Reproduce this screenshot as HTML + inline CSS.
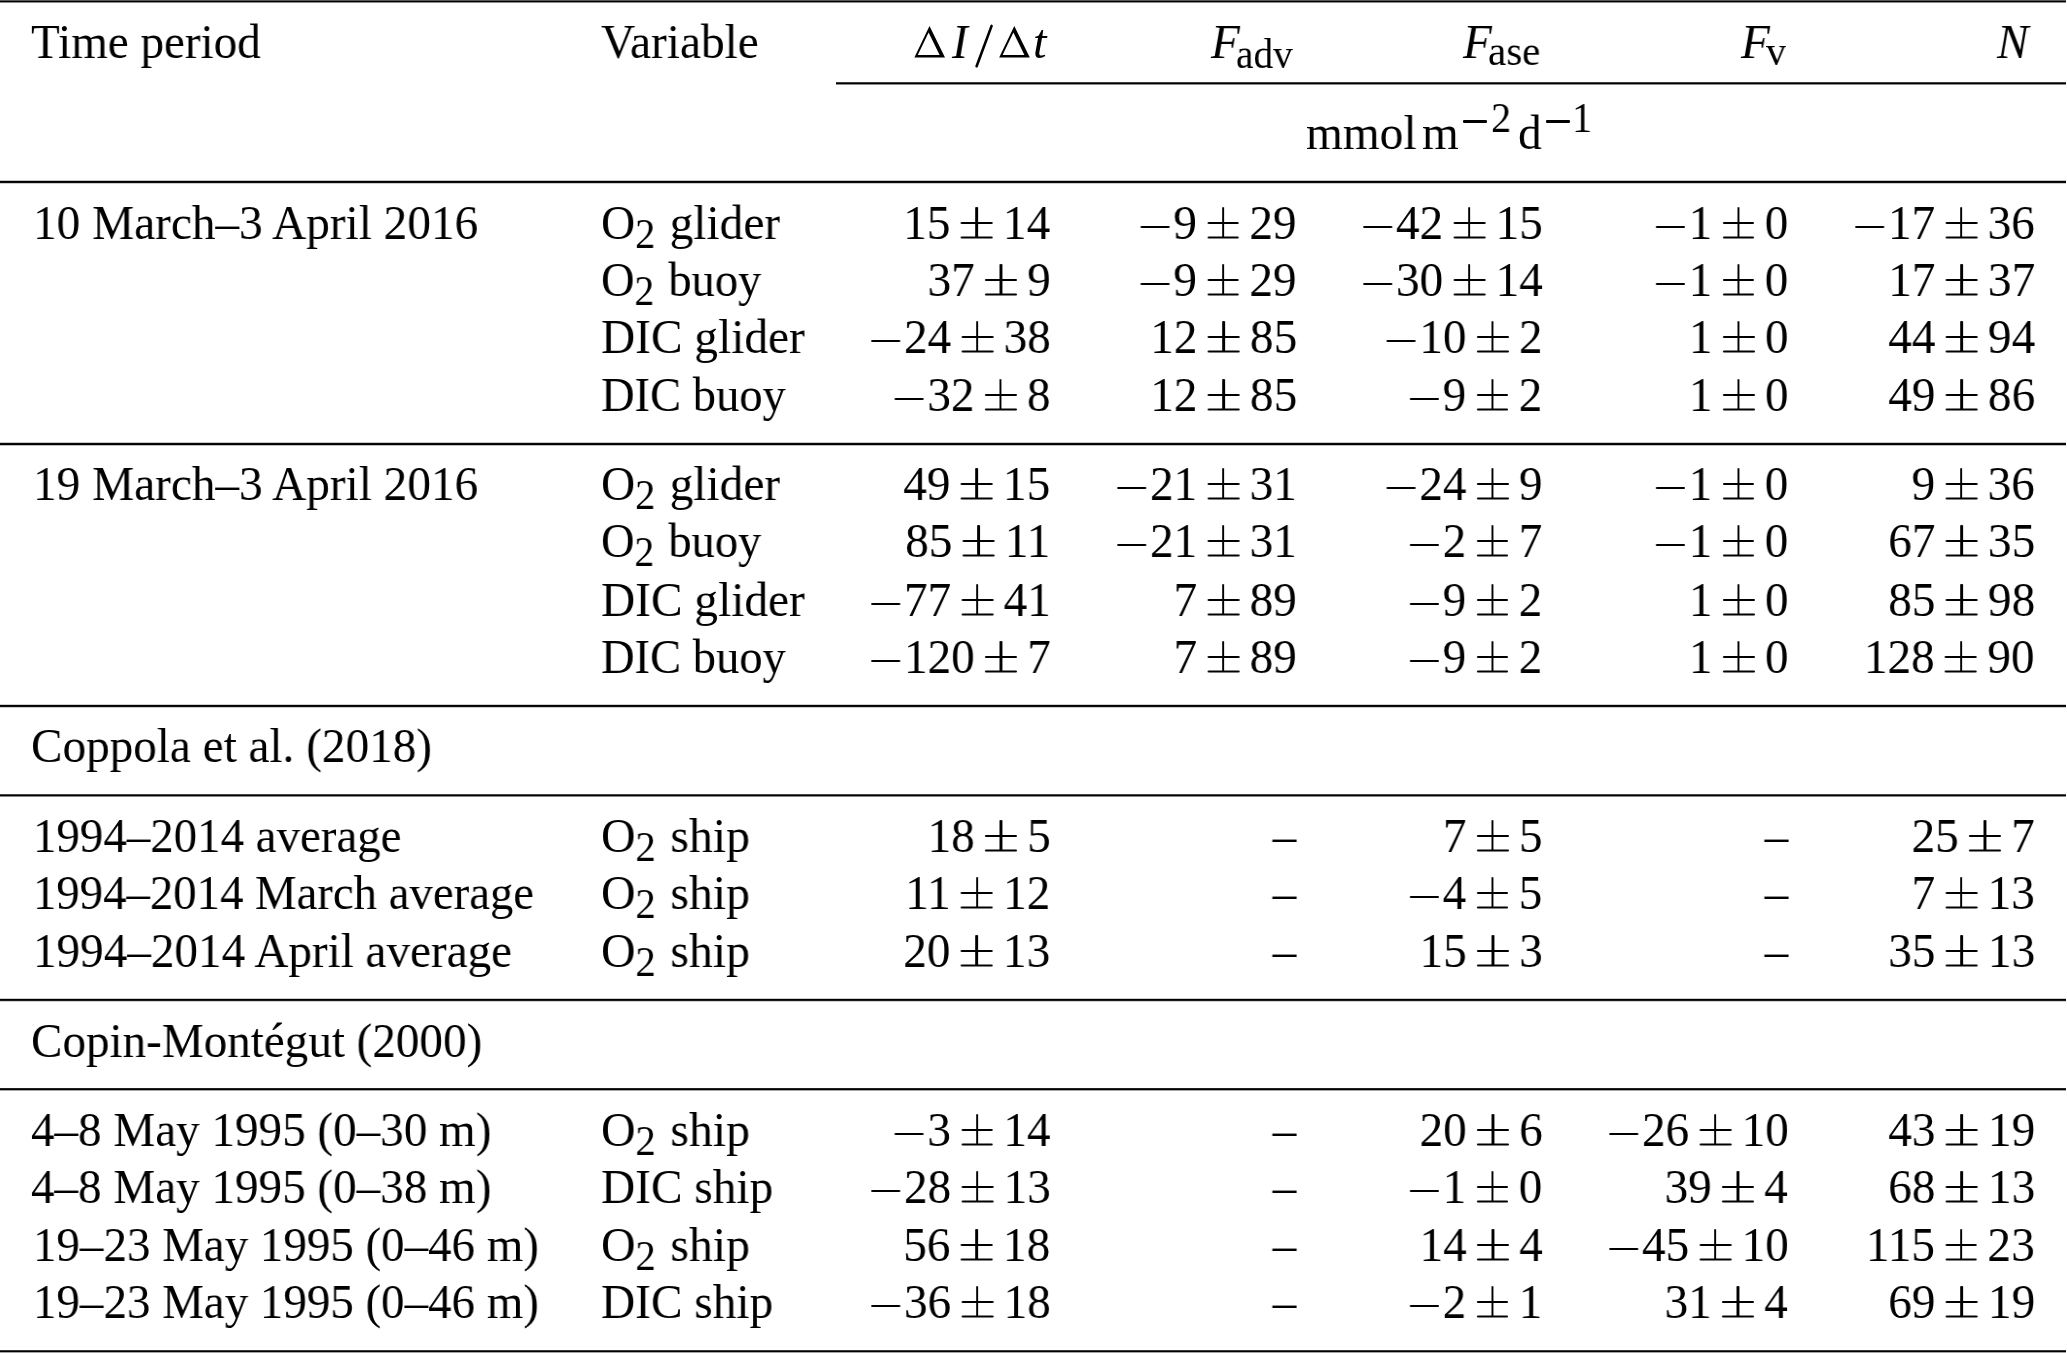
<!DOCTYPE html>
<html><head><meta charset="utf-8"><title>Table</title><style>
html,body{margin:0;padding:0;background:#fff}
body{width:2067px;height:1353px;position:relative;overflow:hidden}
.t{will-change:transform;position:absolute;white-space:nowrap;font-family:"Liberation Serif",serif;font-size:48.6px;line-height:48.6px;height:48.6px;color:#000}
.t.sm{font-size:41.5px;line-height:41.5px;height:41.5px}
.l{transform-origin:0 0;transform:scaleX(0.972)}
.r{transform-origin:100% 0;transform:scaleX(0.972);text-align:right}
.it{font-style:italic}
.sb{font-size:41.5px;position:relative;top:9px;line-height:0;margin-right:2.572px}
i.pm,i.mn{display:inline-block;position:relative;height:0;vertical-align:baseline;font-size:0;line-height:0;color:transparent;font-style:normal}
i.pm{width:32.716px;margin:0 10.7px 0 10.597px}
i.pm:before{content:"";position:absolute;left:0;right:0;height:2.4px;bottom:14.7px;background:#000;border-radius:1.2px;box-shadow:0 14.6px 0 #000}
i.pm:after{content:"";position:absolute;left:15.175px;width:2.366px;bottom:1.3px;height:30.9px;background:#000;border-radius:1px}
i.mn{width:29.63px;margin-right:4.012px}
i.mn:before{content:"";position:absolute;left:0;right:0;height:2.5px;bottom:10.95px;background:#000;border-radius:1.25px}
.rule{position:absolute;left:0;width:2066px;height:1px}
.bar{position:absolute;background:#000;border-radius:1.1px;font-size:0;line-height:0;color:transparent;overflow:hidden}
</style></head>
<body>
<div class="rule" style="top:0px;background:rgb(88,88,88)"></div><div class="rule" style="top:1px;background:rgb(0,0,0)"></div><div class="rule" style="top:2px;background:rgb(140,140,140)"></div><div class="rule" style="top:180px;background:rgb(196,196,196)"></div><div class="rule" style="top:181px;background:rgb(0,0,0)"></div><div class="rule" style="top:182px;background:rgb(12,12,12)"></div><div class="rule" style="top:183px;background:rgb(204,204,204)"></div><div class="rule" style="top:442px;background:rgb(200,200,200)"></div><div class="rule" style="top:443px;background:rgb(8,8,8)"></div><div class="rule" style="top:444px;background:rgb(0,0,0)"></div><div class="rule" style="top:445px;background:rgb(192,192,192)"></div><div class="rule" style="top:704px;background:rgb(208,208,208)"></div><div class="rule" style="top:705px;background:rgb(0,0,0)"></div><div class="rule" style="top:706px;background:rgb(16,16,16)"></div><div class="rule" style="top:707px;background:rgb(200,200,200)"></div><div class="rule" style="top:794px;background:rgb(72,72,72)"></div><div class="rule" style="top:795px;background:rgb(0,0,0)"></div><div class="rule" style="top:796px;background:rgb(136,136,136)"></div><div class="rule" style="top:998px;background:rgb(204,204,204)"></div><div class="rule" style="top:999px;background:rgb(0,0,0)"></div><div class="rule" style="top:1000px;background:rgb(26,26,26)"></div><div class="rule" style="top:1001px;background:rgb(208,208,208)"></div><div class="rule" style="top:1088px;background:rgb(32,32,32)"></div><div class="rule" style="top:1089px;background:rgb(0,0,0)"></div><div class="rule" style="top:1090px;background:rgb(168,168,168)"></div><div class="rule" style="top:1350px;background:rgb(58,58,58)"></div><div class="rule" style="top:1351px;background:rgb(0,0,0)"></div><div class="rule" style="top:1352px;background:rgb(164,164,164)"></div><div class="rule" style="top:82px;left:836px;width:1230px;background:rgb(60,60,60)"></div><div class="rule" style="top:83px;left:836px;width:1230px;background:rgb(0,0,0)"></div><div class="rule" style="top:84px;left:836px;width:1230px;background:rgb(138,138,138)"></div>
<svg width="2067" height="100" style="position:absolute;left:0;top:0">
<path d="M914.4,57.4 L929.5,26.1 L945,57.4 Z M917.8,54.9 L928.6,32.6 L939.6,54.9 Z M999.2,57.4 L1014.3,26.1 L1029.8,57.4 Z M1002.6,54.9 L1013.4,32.6 L1024.4,54.9 Z" fill="#000" fill-rule="evenodd"/>
<line x1="976.6" y1="66.2" x2="991.6" y2="25.9" stroke="#000" stroke-width="2.6" stroke-linecap="round"/>
</svg>
<div class="t l" style="top:18px;left:30.954px;transform:scaleX(0.969);">Time period</div>
<div class="t l" style="top:18px;left:601.098px;transform:scaleX(0.975);">Variable</div>
<div class="t l it" style="top:18px;left:951.685px;">I</div>
<div class="t l it" style="top:18px;left:1032.874px;">t</div>
<div class="t l it" style="top:18px;left:1210.554px;">F</div>
<div class="t l sm" style="top:34px;left:1235.647px;transform:scaleX(0.946);">adv</div>
<div class="t l it" style="top:18px;left:1462.804px;">F</div>
<div class="t l sm" style="top:31px;left:1487.945px;transform:scaleX(0.988);">ase</div>
<div class="t l it" style="top:18px;left:1740.704px;">F</div>
<div class="t l sm" style="top:31px;left:1766px;">v</div>
<div class="t l it" style="top:18px;left:1996.796px;">N</div>
<div class="t l" style="top:109px;left:1306.005px;transform:scaleX(0.975);">mmol</div>
<div class="t l" style="top:109px;left:1421.708px;">m</div>
<div class="t l sm" style="top:98px;left:1490.527px;">2</div>
<div class="t l" style="top:109px;left:1517.593px;">d</div>
<div class="t l sm" style="top:98px;left:1572.405px;">1</div>
<div class="t l" style="top:199px;left:32.697px;transform:scaleX(0.973);">10 March–3 April 2016</div>
<div class="t l" style="top:199px;left:601.096px;transform:scaleX(0.974);">O<span class="sb">2</span> glider</div>
<div class="t r" style="top:199px;right:1016.6px;">15<i class="pm">±</i>14</div>
<div class="t r" style="top:199px;right:770.3px;"><i class="mn">−</i>9<i class="pm">±</i>29</div>
<div class="t r" style="top:199px;right:524.4px;"><i class="mn">−</i>42<i class="pm">±</i>15</div>
<div class="t r" style="top:199px;right:278.7px;"><i class="mn">−</i>1<i class="pm">±</i>0</div>
<div class="t r" style="top:199px;right:32.2px;"><i class="mn">−</i>17<i class="pm">±</i>36</div>
<div class="t l" style="top:256px;left:601.133px;transform:scaleX(0.955);">O<span class="sb">2</span> buoy</div>
<div class="t r" style="top:256px;right:1016.6px;">37<i class="pm">±</i>9</div>
<div class="t r" style="top:256px;right:770.3px;"><i class="mn">−</i>9<i class="pm">±</i>29</div>
<div class="t r" style="top:256px;right:524.4px;"><i class="mn">−</i>30<i class="pm">±</i>14</div>
<div class="t r" style="top:256px;right:278.7px;"><i class="mn">−</i>1<i class="pm">±</i>0</div>
<div class="t r" style="top:256px;right:32.2px;">17<i class="pm">±</i>37</div>
<div class="t l" style="top:313px;left:601.098px;transform:scaleX(0.974);">DIC glider</div>
<div class="t r" style="top:313px;right:1016.6px;"><i class="mn">−</i>24<i class="pm">±</i>38</div>
<div class="t r" style="top:313px;right:770.3px;">12<i class="pm">±</i>85</div>
<div class="t r" style="top:313px;right:524.4px;"><i class="mn">−</i>10<i class="pm">±</i>2</div>
<div class="t r" style="top:313px;right:278.7px;">1<i class="pm">±</i>0</div>
<div class="t r" style="top:313px;right:32.2px;">44<i class="pm">±</i>94</div>
<div class="t l" style="top:371px;left:601.113px;transform:scaleX(0.957);">DIC buoy</div>
<div class="t r" style="top:371px;right:1016.6px;"><i class="mn">−</i>32<i class="pm">±</i>8</div>
<div class="t r" style="top:371px;right:770.3px;">12<i class="pm">±</i>85</div>
<div class="t r" style="top:371px;right:524.4px;"><i class="mn">−</i>9<i class="pm">±</i>2</div>
<div class="t r" style="top:371px;right:278.7px;">1<i class="pm">±</i>0</div>
<div class="t r" style="top:371px;right:32.2px;">49<i class="pm">±</i>86</div>
<div class="t l" style="top:460px;left:32.748px;transform:scaleX(0.973);">19 March–3 April 2016</div>
<div class="t l" style="top:460px;left:601.096px;transform:scaleX(0.974);">O<span class="sb">2</span> glider</div>
<div class="t r" style="top:460px;right:1016.6px;">49<i class="pm">±</i>15</div>
<div class="t r" style="top:460px;right:770.3px;"><i class="mn">−</i>21<i class="pm">±</i>31</div>
<div class="t r" style="top:460px;right:524.4px;"><i class="mn">−</i>24<i class="pm">±</i>9</div>
<div class="t r" style="top:460px;right:278.7px;"><i class="mn">−</i>1<i class="pm">±</i>0</div>
<div class="t r" style="top:460px;right:32.2px;">9<i class="pm">±</i>36</div>
<div class="t l" style="top:517px;left:601.133px;transform:scaleX(0.955);">O<span class="sb">2</span> buoy</div>
<div class="t r" style="top:517px;right:1016.6px;">85<i class="pm">±</i>11</div>
<div class="t r" style="top:517px;right:770.3px;"><i class="mn">−</i>21<i class="pm">±</i>31</div>
<div class="t r" style="top:517px;right:524.4px;"><i class="mn">−</i>2<i class="pm">±</i>7</div>
<div class="t r" style="top:517px;right:278.7px;"><i class="mn">−</i>1<i class="pm">±</i>0</div>
<div class="t r" style="top:517px;right:32.2px;">67<i class="pm">±</i>35</div>
<div class="t l" style="top:576px;left:601.098px;transform:scaleX(0.974);">DIC glider</div>
<div class="t r" style="top:576px;right:1016.6px;"><i class="mn">−</i>77<i class="pm">±</i>41</div>
<div class="t r" style="top:576px;right:770.3px;">7<i class="pm">±</i>89</div>
<div class="t r" style="top:576px;right:524.4px;"><i class="mn">−</i>9<i class="pm">±</i>2</div>
<div class="t r" style="top:576px;right:278.7px;">1<i class="pm">±</i>0</div>
<div class="t r" style="top:576px;right:32.2px;">85<i class="pm">±</i>98</div>
<div class="t l" style="top:633px;left:601.113px;transform:scaleX(0.957);">DIC buoy</div>
<div class="t r" style="top:633px;right:1016.6px;"><i class="mn">−</i>120<i class="pm">±</i>7</div>
<div class="t r" style="top:633px;right:770.3px;">7<i class="pm">±</i>89</div>
<div class="t r" style="top:633px;right:524.4px;"><i class="mn">−</i>9<i class="pm">±</i>2</div>
<div class="t r" style="top:633px;right:278.7px;">1<i class="pm">±</i>0</div>
<div class="t r" style="top:633px;right:32.2px;">128<i class="pm">±</i>90</div>
<div class="t l" style="top:722px;left:30.903px;transform:scaleX(0.971);">Coppola et al. (2018)</div>
<div class="t l" style="top:812px;left:32.782px;transform:scaleX(0.965);">1994–2014 average</div>
<div class="t l" style="top:812px;left:601.079px;transform:scaleX(0.983);">O<span class="sb">2</span> ship</div>
<div class="t r" style="top:812px;right:1016.6px;">18<i class="pm">±</i>5</div>
<div class="t r" style="top:812px;right:770.3px;">–</div>
<div class="t r" style="top:812px;right:524.4px;">7<i class="pm">±</i>5</div>
<div class="t r" style="top:812px;right:278.7px;">–</div>
<div class="t r" style="top:812px;right:32.2px;">25<i class="pm">±</i>7</div>
<div class="t l" style="top:869px;left:32.793px;transform:scaleX(0.962);">1994–2014 March average</div>
<div class="t l" style="top:869px;left:601.079px;transform:scaleX(0.983);">O<span class="sb">2</span> ship</div>
<div class="t r" style="top:869px;right:1016.6px;">11<i class="pm">±</i>12</div>
<div class="t r" style="top:869px;right:770.3px;">–</div>
<div class="t r" style="top:869px;right:524.4px;"><i class="mn">−</i>4<i class="pm">±</i>5</div>
<div class="t r" style="top:869px;right:278.7px;">–</div>
<div class="t r" style="top:869px;right:32.2px;">7<i class="pm">±</i>13</div>
<div class="t l" style="top:927px;left:32.759px;transform:scaleX(0.97);">1994–2014 April average</div>
<div class="t l" style="top:927px;left:601.079px;transform:scaleX(0.983);">O<span class="sb">2</span> ship</div>
<div class="t r" style="top:927px;right:1016.6px;">20<i class="pm">±</i>13</div>
<div class="t r" style="top:927px;right:770.3px;">–</div>
<div class="t r" style="top:927px;right:524.4px;">15<i class="pm">±</i>3</div>
<div class="t r" style="top:927px;right:278.7px;">–</div>
<div class="t r" style="top:927px;right:32.2px;">35<i class="pm">±</i>13</div>
<div class="t l" style="top:1017px;left:30.907px;transform:scaleX(0.969);">Copin-Montégut (2000)</div>
<div class="t l" style="top:1106px;left:30.954px;transform:scaleX(0.969);">4–8 May 1995 (0–30 m)</div>
<div class="t l" style="top:1106px;left:601.079px;transform:scaleX(0.983);">O<span class="sb">2</span> ship</div>
<div class="t r" style="top:1106px;right:1016.6px;"><i class="mn">−</i>3<i class="pm">±</i>14</div>
<div class="t r" style="top:1106px;right:770.3px;">–</div>
<div class="t r" style="top:1106px;right:524.4px;">20<i class="pm">±</i>6</div>
<div class="t r" style="top:1106px;right:278.7px;"><i class="mn">−</i>26<i class="pm">±</i>10</div>
<div class="t r" style="top:1106px;right:32.2px;">43<i class="pm">±</i>19</div>
<div class="t l" style="top:1163px;left:30.954px;transform:scaleX(0.969);">4–8 May 1995 (0–38 m)</div>
<div class="t l" style="top:1163px;left:601.098px;transform:scaleX(0.974);">DIC ship</div>
<div class="t r" style="top:1163px;right:1016.6px;"><i class="mn">−</i>28<i class="pm">±</i>13</div>
<div class="t r" style="top:1163px;right:770.3px;">–</div>
<div class="t r" style="top:1163px;right:524.4px;"><i class="mn">−</i>1<i class="pm">±</i>0</div>
<div class="t r" style="top:1163px;right:278.7px;">39<i class="pm">±</i>4</div>
<div class="t r" style="top:1163px;right:32.2px;">68<i class="pm">±</i>13</div>
<div class="t l" style="top:1221px;left:32.777px;transform:scaleX(0.966);">19–23 May 1995 (0–46 m)</div>
<div class="t l" style="top:1221px;left:601.079px;transform:scaleX(0.983);">O<span class="sb">2</span> ship</div>
<div class="t r" style="top:1221px;right:1016.6px;">56<i class="pm">±</i>18</div>
<div class="t r" style="top:1221px;right:770.3px;">–</div>
<div class="t r" style="top:1221px;right:524.4px;">14<i class="pm">±</i>4</div>
<div class="t r" style="top:1221px;right:278.7px;"><i class="mn">−</i>45<i class="pm">±</i>10</div>
<div class="t r" style="top:1221px;right:32.2px;">115<i class="pm">±</i>23</div>
<div class="t l" style="top:1278px;left:32.777px;transform:scaleX(0.966);">19–23 May 1995 (0–46 m)</div>
<div class="t l" style="top:1278px;left:601.098px;transform:scaleX(0.974);">DIC ship</div>
<div class="t r" style="top:1278px;right:1016.6px;"><i class="mn">−</i>36<i class="pm">±</i>18</div>
<div class="t r" style="top:1278px;right:770.3px;">–</div>
<div class="t r" style="top:1278px;right:524.4px;"><i class="mn">−</i>2<i class="pm">±</i>1</div>
<div class="t r" style="top:1278px;right:278.7px;">31<i class="pm">±</i>4</div>
<div class="t r" style="top:1278px;right:32.2px;">69<i class="pm">±</i>19</div>
<div class="bar" style="left:1462.8px;width:24.2px;top:120.45px;height:2.3px">−</div>
<div class="bar" style="left:1545.8px;width:24.4px;top:120.45px;height:2.3px">−</div>
</body></html>
